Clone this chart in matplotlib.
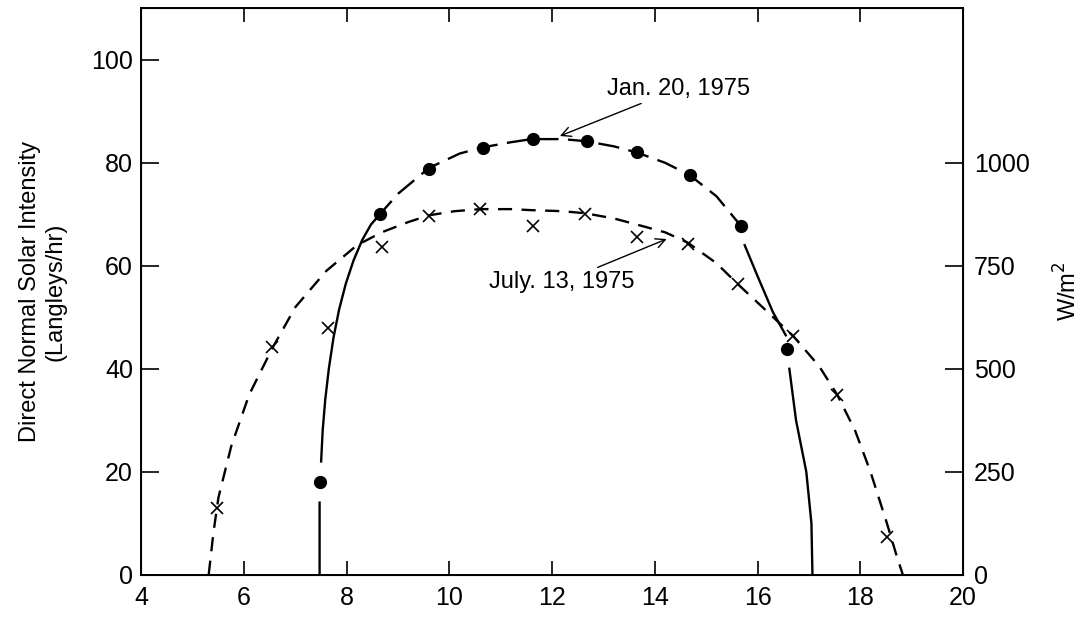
import numpy as np
import matplotlib.pyplot as plt

plt.rcParams['font.family'] = ['Liberation Sans', 'DejaVu Sans']

# measured points (hour of day, Langleys/hr)
jan_hours = [7.47, 8.64, 9.61, 10.65, 11.62, 12.67, 13.65, 14.68, 15.68, 16.57]
jan_vals = [18.1, 70.0, 78.8, 82.9, 84.6, 84.2, 82.1, 77.6, 67.7, 43.8]

jul_hours = [5.48, 6.55, 7.63, 8.68, 9.61, 10.59, 11.62, 12.64, 13.65, 14.64,
             15.62, 16.7, 17.55, 18.52]
jul_vals = [13.0, 44.2, 48.0, 63.6, 69.6, 71.0, 67.7, 70.0, 65.6, 64.2,
            56.4, 46.3, 35.0, 7.4]

# hand drawn fitted curves
jan_rise_x = [7.47, 7.47, None, 7.5, 7.53, 7.58, 7.65, 7.74, 7.85, 7.98, 8.13,
              8.3, 8.47, 8.6]
jan_rise_y = [0, 14, None, 22, 28, 34, 40, 46, 51.5, 56.5, 61, 65, 68, 69.5]
jan_top_x = [8.6, 9.0, 9.6, 10.2, 10.65, 11.2, 11.6, 12.2, 12.65, 13.2, 13.65,
             14.2, 14.68, 15.2, 15.68]
jan_top_y = [69.5, 74, 79, 81.8, 83, 84, 84.6, 84.6, 84.2, 83.2, 82,
             80, 77.6, 73.5, 67.7]
jan_fall_x = [15.75, 16.0, 16.3, 16.55, None, 16.62, 16.75, 16.95, 17.05, 17.07]
jan_fall_y = [64, 58, 51, 46.5, None, 40, 30, 20, 10, 0]

jul_curve_x = [5.31, 5.4, 5.5, 5.75, 6.1, 6.55, 7.0, 7.6, 8.2, 8.68, 9.2, 9.6,
               10.1, 10.6, 11.2, 11.6, 12.2, 12.64, 13.2, 13.65, 14.2, 14.64,
               15.2, 15.62, 16.2, 16.7, 17.2, 17.55, 17.9, 18.2, 18.52, 18.7, 18.83]
jul_curve_y = [0, 8, 15, 25, 35, 44, 52, 59, 64, 66.5, 68.5, 69.8,
               70.6, 71, 71, 70.8, 70.6, 70.2, 69.2, 68, 66.5, 64.5,
               60.5, 56.4, 51, 46.3, 40.5, 35, 28, 20, 10, 4, 0]

left_ticks = [0, 20, 40, 60, 80, 100]
right_ticks = [0, 250, 500, 750, 1000]
x_ticks = [4, 6, 8, 10, 12, 14, 16, 18, 20]

fig = plt.figure(figsize=(10.88, 6.4), dpi=100)
ax = fig.add_subplot(111)
fig.subplots_adjust(left=0.13, right=0.885, bottom=0.102, top=0.987)

def nan_list(v):
    return [np.nan if a is None else a for a in v]

ax.plot(nan_list(jan_rise_x), nan_list(jan_rise_y), color='black', lw=1.7)
ax.plot(jan_top_x, jan_top_y, color='black', lw=1.7, dashes=(9, 4))
ax.plot(nan_list(jan_fall_x), nan_list(jan_fall_y), color='black', lw=1.7)
ax.plot(jul_curve_x, jul_curve_y, color='black', lw=1.7, dashes=(6, 4))

ax.plot(jan_hours, jan_vals, 'o', color='black', ms=8.5)
ax.plot(jul_hours, jul_vals, 'x', color='black', ms=8, mew=1.2)

ax.set_xlim(4, 20)
ax.set_ylim(0, 110)
ax.set_xticks(x_ticks)
ax.set_yticks(left_ticks)
ax.tick_params(axis='both', direction='in', labelsize=18, width=1.2)
ax.tick_params(axis='y', length=13, pad=6)
ax.tick_params(axis='x', length=10, pad=8, top=True)
ax.set_ylabel('Direct Normal Solar Intensity\n(Langleys/hr)', fontsize=17,
              labelpad=18)
for s in ax.spines.values():
    s.set_linewidth(1.4)

ax.annotate('Jan. 20, 1975', xy=(12.15, 85.2), xytext=(13.06, 94.4),
            fontsize=17, va='center', ha='left',
            arrowprops=dict(arrowstyle='->', color='black', lw=1.0,
                            shrinkA=2, shrinkB=0))
ax.annotate('July. 13, 1975', xy=(14.23, 65.2), xytext=(13.6, 56.8),
            fontsize=17, va='center', ha='right',
            arrowprops=dict(arrowstyle='->', color='black', lw=1.0,
                            shrinkA=2, shrinkB=0))

ax2 = ax.twinx()
ax2.set_ylim(0, 110 * 12.5)
ax2.set_yticks(right_ticks)
ax2.tick_params(axis='y', direction='in', length=13, width=1.2, labelsize=18, pad=8)
ax2.set_ylabel('W/m$^2$', fontsize=17, labelpad=18, rotation=90)

fig.savefig('out.png', dpi=100)
